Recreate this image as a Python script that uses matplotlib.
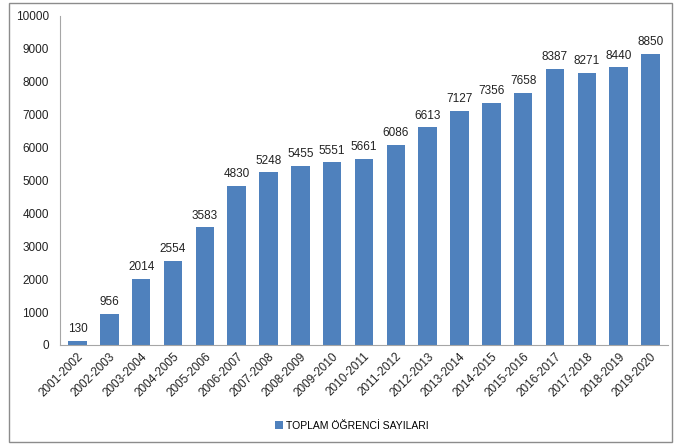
import matplotlib.pyplot as plt
from matplotlib.patches import Rectangle

years = ['2001-2002', '2002-2003', '2003-2004', '2004-2005', '2005-2006',
         '2006-2007', '2007-2008', '2008-2009', '2009-2010', '2010-2011',
         '2011-2012', '2012-2013', '2013-2014', '2014-2015', '2015-2016',
         '2016-2017', '2017-2018', '2018-2019', '2019-2020']
counts = [130, 956, 2014, 2554, 3583, 4830, 5248, 5455, 5551, 5661,
          6086, 6613, 7127, 7356, 7658, 8387, 8271, 8440, 8850]

plt.rcParams['font.family'] = ['Liberation Sans', 'DejaVu Sans']

fig = plt.figure(figsize=(6.74, 4.44), dpi=100)
ax = fig.add_axes([0.089, 0.223, 0.902, 0.741])

bars = ax.bar(range(len(years)), counts, width=0.58, color='#4F81BD',
              label='TOPLAM ÖĞRENCİ SAYILARI')
for i, v in enumerate(counts):
    ax.text(i, v + 170, str(v), ha='center', va='bottom', fontsize=8.5, color='#222222')

ax.set_xlim(-0.55, len(years) - 0.45)
ax.set_ylim(0, 10000)
ax.set_yticks(range(0, 10001, 1000))
ax.set_xticks(range(len(years)))
ax.set_xticklabels(years, rotation=45, ha='right', rotation_mode='anchor')
ax.tick_params(axis='both', length=0, labelsize=8.5, colors='#222222')
ax.tick_params(axis='y', pad=8)
ax.tick_params(axis='x', pad=4)
for s in ['top', 'right']:
    ax.spines[s].set_visible(False)
for s in ['left', 'bottom']:
    ax.spines[s].set_color('#A6A6A6')

ax.legend(loc='center', bbox_to_anchor=(0.48, -0.245), frameon=False,
          fontsize=7.5, handlelength=0.7, handleheight=0.8, handletextpad=0.3)

fig.patches.append(Rectangle((9 / 674, 2 / 444), 663 / 674, 439 / 444,
                             transform=fig.transFigure, fill=False,
                             edgecolor='#8C8C8C', linewidth=1))

fig.savefig('out.png', dpi=100)
